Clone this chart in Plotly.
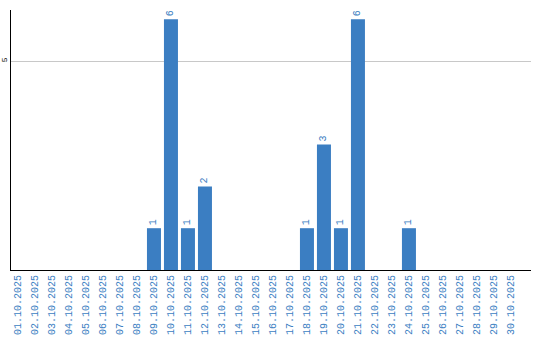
import plotly.graph_objects as go

dates = [f"{d:02d}.10.2025" for d in range(1, 31)]
counts = [0, 0, 0, 0, 0, 0, 0, 0, 1, 6, 1, 2, 0, 0, 0, 0, 0, 1, 3, 1, 6, 0, 0, 1, 0, 0, 0, 0, 0, 0]
labels = [str(v) if v else "" for v in counts]

blue = "#3b7ec2"

fig = go.Figure(go.Bar(
    x=dates, y=counts, text=labels,
    textposition="outside", textangle=-90, constraintext="none",
    textfont=dict(family="Liberation Mono", size=10, color=blue),
    marker=dict(color=blue, line=dict(width=0)),
    cliponaxis=False,
))

fig.update_layout(
    width=540, height=340,
    margin=dict(l=11, r=9, t=10, b=70, autoexpand=False),
    plot_bgcolor="white", paper_bgcolor="white",
    bargap=0.176, showlegend=False,
    font=dict(family="Liberation Mono"),
    xaxis=dict(
        type="category", range=[-0.41, 30.18], automargin=False,
        tickangle=-90, showline=True, linecolor="black", linewidth=1,
        ticks="", showgrid=False, tickfont=dict(size=10, color=blue),
        fixedrange=True,
    ),
    yaxis=dict(
        range=[0, 6.22], tickvals=[5], ticktext=["5"], tickangle=-90,
        automargin=False,
        showline=True, linecolor="black", linewidth=1, ticks="",
        showgrid=True, gridcolor="#c8c8c8", gridwidth=1, zeroline=False,
        tickfont=dict(size=8, color="black"), ticklabelstandoff=0,
    ),
)

fig.write_html("out.html")
